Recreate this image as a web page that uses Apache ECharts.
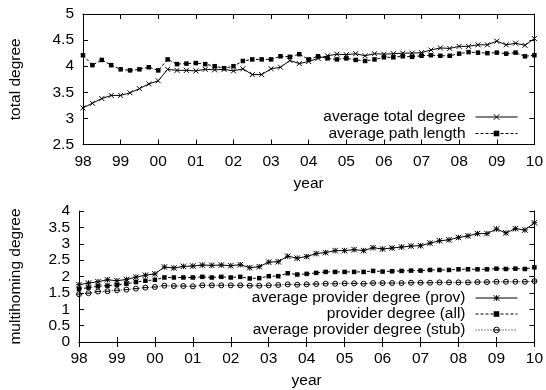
<!DOCTYPE html>
<html><head><meta charset="utf-8">
<script src="https://cdn.jsdelivr.net/npm/echarts@6/dist/echarts.min.js"></script>
<style>html,body{margin:0;padding:0;background:#fff}#c{width:546px;height:390px}</style>
</head><body><div id="c"></div>
<script>
// 49 quarterly samples, 1998.00 .. 2010.00
const yearLabels = ['98','99','00','01','02','03','04','05','06','07','08','09','10'];
const avgTotalDegree = [3.20,3.29,3.38,3.44,3.44,3.49,3.57,3.66,3.72,3.94,3.92,3.92,3.91,3.94,3.93,3.94,3.91,3.95,3.84,3.84,3.95,3.98,4.11,4.05,4.09,4.15,4.20,4.23,4.22,4.24,4.20,4.24,4.23,4.24,4.25,4.25,4.26,4.31,4.35,4.34,4.38,4.38,4.41,4.41,4.48,4.41,4.44,4.40,4.53];
const avgPathLength = [4.21,4.02,4.12,4.02,3.94,3.92,3.94,3.98,3.92,4.13,4.04,4.05,4.06,4.04,4.00,3.96,4.00,4.10,4.13,4.13,4.13,4.19,4.18,4.23,4.13,4.19,4.15,4.13,4.15,4.12,4.10,4.13,4.17,4.17,4.19,4.18,4.20,4.21,4.20,4.20,4.24,4.27,4.26,4.25,4.26,4.24,4.26,4.19,4.21];
const provDegreeProv = [1.75,1.80,1.84,1.90,1.87,1.91,1.98,2.04,2.08,2.29,2.26,2.31,2.32,2.35,2.34,2.35,2.33,2.36,2.27,2.30,2.44,2.45,2.62,2.56,2.61,2.70,2.73,2.79,2.79,2.82,2.79,2.88,2.84,2.87,2.90,2.93,2.94,3.02,3.09,3.12,3.19,3.24,3.31,3.31,3.45,3.33,3.46,3.42,3.64];
const provDegreeAll = [1.62,1.66,1.70,1.72,1.74,1.78,1.83,1.87,1.90,1.97,1.97,1.97,1.97,1.99,1.97,1.99,1.97,1.99,1.94,1.95,2.01,2.01,2.10,2.06,2.08,2.11,2.14,2.14,2.14,2.14,2.14,2.17,2.15,2.16,2.17,2.18,2.18,2.20,2.20,2.20,2.22,2.22,2.22,2.22,2.24,2.23,2.24,2.23,2.28];
const provDegreeStub = [1.46,1.49,1.54,1.55,1.58,1.60,1.63,1.66,1.68,1.72,1.71,1.71,1.70,1.73,1.73,1.73,1.73,1.73,1.72,1.72,1.73,1.74,1.76,1.75,1.76,1.77,1.78,1.78,1.79,1.79,1.78,1.80,1.80,1.80,1.80,1.81,1.81,1.81,1.82,1.82,1.82,1.82,1.83,1.83,1.84,1.84,1.84,1.84,1.86];

const toPairs = arr => arr.map((v, i) => [1998 + i / 4, v]);
const FONT = 'Liberation Sans';
const txt = {color: '#000', fontFamily: FONT, fontSize: 15.5};
const fmtYear = v => { const k = Math.round(v - 1998); return yearLabels[k] !== undefined ? yearLabels[k] : ''; };

function xAxes(gi) {
  return [
    {gridIndex: gi, type: 'value', min: 1998, max: 2010, interval: 1, position: 'bottom',
     name: 'year', nameLocation: 'middle', nameGap: 31, nameTextStyle: txt,
     axisLine: {lineStyle: {color: '#000', width: 1}},
     axisTick: {inside: true, length: 5, lineStyle: {color: '#000'}},
     axisLabel: Object.assign({formatter: fmtYear, margin: 9}, txt),
     splitLine: {show: false}},
    {gridIndex: gi, type: 'value', min: 1998, max: 2010, interval: 1, position: 'top',
     axisLine: {lineStyle: {color: '#000', width: 1}},
     axisTick: {inside: true, length: 5, lineStyle: {color: '#000'}},
     axisLabel: {show: false}, splitLine: {show: false}}
  ];
}
function yAxes(gi, min, max, name, gap) {
  return [
    {gridIndex: gi, type: 'value', min, max, interval: 0.5, position: 'left',
     name, nameLocation: 'middle', nameGap: gap, nameTextStyle: txt,
     axisLine: {show: true, lineStyle: {color: '#000', width: 1}},
     axisTick: {show: true, inside: true, length: 5, lineStyle: {color: '#000'}},
     axisLabel: Object.assign({margin: 9}, txt), splitLine: {show: false}},
    {gridIndex: gi, type: 'value', min, max, interval: 0.5, position: 'right',
     axisLine: {show: true, lineStyle: {color: '#000', width: 1}},
     axisTick: {show: true, inside: true, length: 5, lineStyle: {color: '#000'}},
     axisLabel: {show: false}, splitLine: {show: false}}
  ];
}

const symX = 'path://M0,0L10,10M10,0L0,10';
const symStar = 'path://M0,0L10,10M10,0L0,10M5,0L5,10M0,5L10,5';
const symCircle = 'path://M0,5A5,5 0 1,1 10,5A5,5 0 1,1 0,5ZM0,5L10,5';

function line(name, data, xi, yi, symbol, size, ltype, filled) {
  return {
    name, type: 'line', xAxisIndex: xi, yAxisIndex: yi, data: toPairs(data),
    symbol, symbolSize: size, showAllSymbol: true, animation: false,
    lineStyle: {color: '#000', width: 1, type: ltype},
    itemStyle: filled ? {color: '#000'} : {color: 'rgba(0,0,0,0)', borderColor: '#000', borderWidth: 1},
    emphasis: {disabled: true}
  };
}

const legendBase = {orient: 'vertical', align: 'right', right: 28, padding: 0,
  itemWidth: 42, itemHeight: 7, selectedMode: false,
  textStyle: Object.assign({padding: [0, 5, 0, 0]}, txt),
  lineStyle: {width: 1}, itemStyle: {borderWidth: 1}};

const chart = echarts.init(document.getElementById('c'));
chart.setOption({
  backgroundColor: '#fff',
  animation: false,
  grid: [
    {left: 79, top: 14, width: 458, height: 130.5},
    {left: 79, top: 211, width: 458, height: 132}
  ],
  xAxis: [...xAxes(0), ...xAxes(1)],
  yAxis: [...yAxes(0, 2.5, 5, 'total degree', 59), ...yAxes(1, 0, 4, 'multihoming degree', 55)],
  legend: [
    Object.assign({}, legendBase, {top: 109, itemGap: 0.5, data: ['average total degree', 'average path length']}),
    Object.assign({}, legendBase, {top: 290, itemGap: 0, data: ['average provider degree (prov)', 'provider degree (all)', 'average provider degree (stub)']})
  ],
  series: [
    line('average total degree', avgTotalDegree, 0, 0, symX, 5, 'solid', false),
    line('average path length', avgPathLength, 0, 0, 'rect', 4.5, [3, 2], true),
    line('average provider degree (prov)', provDegreeProv, 2, 2, symStar, 5.5, 'solid', false),
    line('provider degree (all)', provDegreeAll, 2, 2, 'rect', 4.5, [3, 2], true),
    line('average provider degree (stub)', provDegreeStub, 2, 2, symCircle, 5, [1, 2], false)
  ]
});
</script></body></html>
